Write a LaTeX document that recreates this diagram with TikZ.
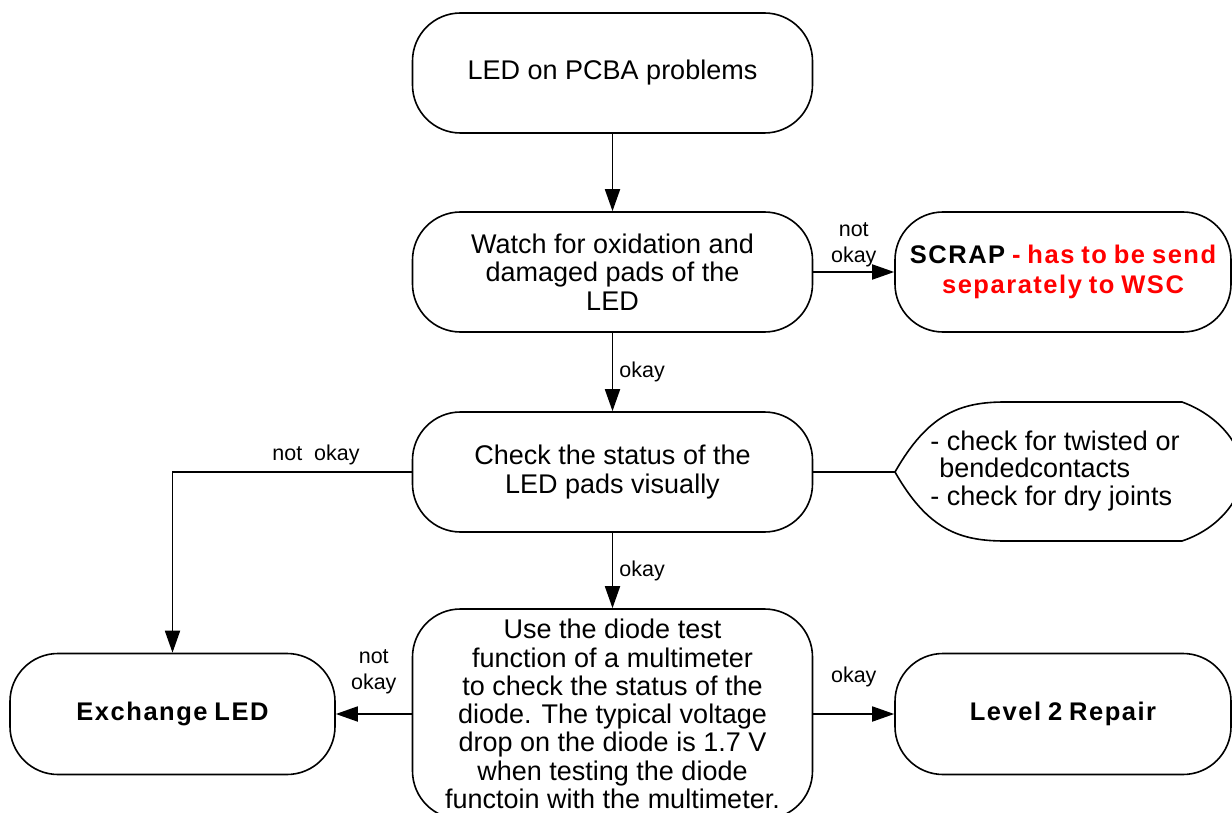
\documentclass[tikz,border=0pt]{standalone}
\usepackage{fontspec}
\setmainfont{Liberation Sans}
\newfontfamily\bsp[LetterSpace=6,WordSpace=0.8]{Liberation Sans}
\usetikzlibrary{arrows.meta}
\definecolor{scrapred}{RGB}{255,0,0}
\begin{document}
\begin{tikzpicture}[x=1pt,y=-1pt,
  box/.style={draw, line width=1.6pt, rounded corners=48pt, minimum width=400pt,
    minimum height=120pt, inner sep=0pt, align=center,
    font=\fontsize{27}{28.3}\selectfont},
  arr/.style={line width=1.8pt, -{Triangle[length=22pt,width=15pt]}},
  plain/.style={line width=1.8pt},
  lbl/.style={font=\fontsize{21.5}{26}\selectfont, align=center, inner sep=2pt},
  bigb/.style={font=\bsp\bfseries\fontsize{25.5}{30}\selectfont}
]
\path[use as bounding box] (0,0) rectangle (1232,813);
\clip (0,0) rectangle (1232,813);

\node[box] (start) at (612.5,73) {LED on PCBA problems};
\node[box] (watch) at (612.5,272) {Watch for oxidation and\\damaged pads of the\\LED};
\node[box, minimum width=336pt, bigb] (scrap) at (1063,272)
  {SCRAP \textcolor{scrapred}{- has to be send}\\\textcolor{scrapred}{separately to WSC}};
\node[box] (check) at (612.5,472) {Check the status of the\\LED pads visually};
\node[box, minimum height=210pt] (diode) at (612.5,714)
  {Use the diode test\\function of a multimeter\\to check the status of the\\diode. The typical voltage\\drop on the diode is 1.7 V\\when testing the diode\\functoin with the multimeter.};
\node[box, minimum width=325pt, minimum height=121pt, bigb] (exch) at (172.5,714) {Exchange LED};
\node[box, minimum width=336pt, minimum height=121pt, bigb] (lvl) at (1063,714) {Level 2 Repair};

% display shape
\coordinate (dispL) at (895,472);
\draw[line width=1.6pt] (dispL) .. controls (928,414) and (960,402) .. (1005,402)
  -- (1182,402) .. controls (1215,414) and (1240,440) .. (1244,472)
  .. controls (1240,504) and (1215,530) .. (1182,541)
  -- (1005,541) .. controls (960,541) and (928,530) .. (dispL);
\node[align=left, inner sep=0pt, font=\fontsize{27}{27.5}\selectfont] (disp) at (1055,471)
  {- check for twisted or\\\phantom{-}bendedcontacts\\- check for dry joints};

% connectors
\draw[arr] (start) -- (watch);
\draw[arr] (watch) -- node[lbl, right=4pt] {okay} (check);
\draw[arr] (check) -- node[lbl, right=4pt] {okay} (diode);
\draw[arr] (watch.east) -- node[lbl, above=2pt] {not\\okay} (scrap.west);
\draw[arr] (check.west) -| node[lbl, pos=0.2, above=4pt] {not\ \ okay} (exch.north);
\draw[plain] (check.east) -- (dispL);
\draw[arr] (diode.west) -- node[lbl, above=17pt] {not\\okay} (exch.east);
\draw[arr] (diode.east) -- node[lbl, above=24pt] {okay} (lvl.west);
\end{tikzpicture}
\end{document}
